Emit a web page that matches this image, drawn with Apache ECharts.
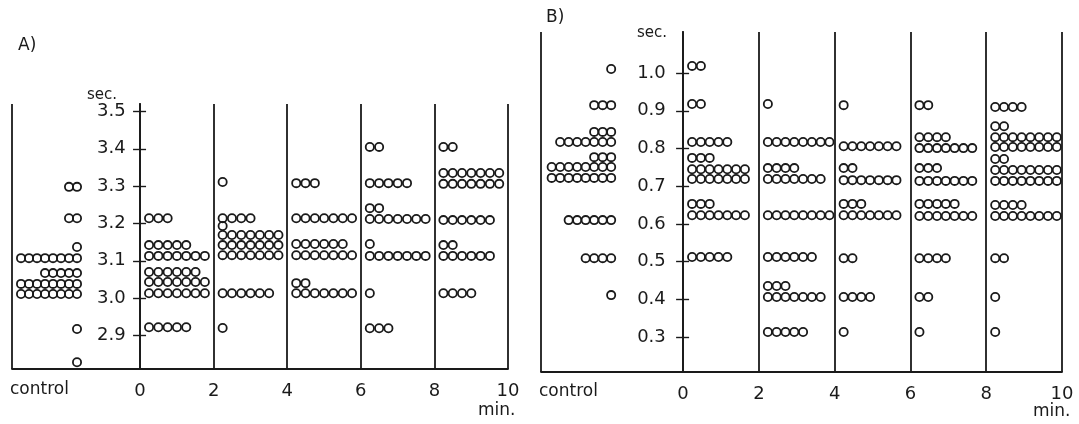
<!DOCTYPE html>
<html>
<head>
<meta charset="utf-8">
<title>Reaction time dot chart</title>
<script src="https://cdn.jsdelivr.net/npm/echarts@6.0.0/dist/echarts.min.js"></script>
<style>
  html, body { margin: 0; padding: 0; background: #fff; }
  #chart { width: 1079px; height: 424px; }
</style>
</head>
<body>
<div id="chart"></div>
<script>
// tick labels
const minuteTicks = [0, 2, 4, 6, 8, 10]
const columnStarts = [0, 2, 4, 6, 8]
const aSecTicks = [2.9, 3.0, 3.1, 3.2, 3.3, 3.4, 3.5]
const bSecTicks = [0.3, 0.4, 0.5, 0.6, 0.7, 0.8, 0.9, 1.0]

// panel A: each row is [sec, number of dots in that row]
const aControl = [[3.298, 2], [3.214, 2], [3.137, 1], [3.107, 8], [3.067, 5], [3.038, 8], [3.011, 8], [2.917, 1], [2.828, 1]]
const aMin0 = [[3.214, 3], [3.142, 5], [3.113, 7], [3.07, 6], [3.043, 7], [3.013, 7], [2.922, 5]]
const aMin2 = [[3.311, 1], [3.214, 4], [3.193, 1], [3.169, 7], [3.142, 7], [3.115, 7], [3.013, 6], [2.92, 1]]
const aMin4 = [[3.308, 3], [3.214, 7], [3.145, 6], [3.115, 7], [3.04, 2], [3.013, 7]]
const aMin6 = [[3.405, 2], [3.308, 5], [3.241, 2], [3.212, 7], [3.145, 1], [3.113, 7], [3.013, 1], [2.919, 3]]
const aMin8 = [[3.405, 2], [3.335, 7], [3.306, 7], [3.209, 6], [3.142, 2], [3.113, 6], [3.013, 4]]

// panel B
const bControl = [[1.011, 1], [0.915, 3], [0.844, 3], [0.817, 7], [0.777, 3], [0.751, 8], [0.722, 8], [0.61, 6], [0.509, 4], [0.411, 1]]
const bMin0 = [[1.019, 2], [0.918, 2], [0.817, 5], [0.775, 3], [0.745, 7], [0.719, 7], [0.653, 3], [0.623, 7], [0.512, 5]]
const bMin2 = [[0.918, 1], [0.817, 8], [0.748, 4], [0.719, 7], [0.623, 8], [0.512, 6], [0.435, 3], [0.406, 7], [0.313, 5]]
const bMin4 = [[0.915, 1], [0.806, 7], [0.748, 2], [0.716, 7], [0.653, 3], [0.623, 7], [0.509, 2], [0.406, 4], [0.313, 1]]
const bMin6 = [[0.915, 2], [0.83, 4], [0.801, 7], [0.748, 3], [0.714, 7], [0.653, 5], [0.621, 7], [0.509, 4], [0.406, 2], [0.313, 1]]
const bMin8 = [[0.91, 4], [0.859, 2], [0.83, 8], [0.804, 8], [0.772, 2], [0.743, 8], [0.714, 8], [0.65, 4], [0.621, 8], [0.509, 2], [0.406, 1], [0.313, 1]]

const INK = '#1a1a1a'
const FONT = 'DejaVu Sans'

// panel layout (pixels) and axis extents
const panelA = {
  left: 12, right: 571, top: 104, bottom: 55,
  xMin: -3.48, xMax: 10, yMin: 2.81, yMax: 3.52, axisX: -1.55,
  firstOff: 9, gap: 9.3, ctrlEnd: 6, ctrlGap: 8, labelMargin: 14,
}
const panelB = {
  left: 541, right: 17, top: 32, bottom: 52,
  xMin: -3.75, xMax: 10, yMin: 0.207, yMax: 1.109, axisX: -1.74,
  firstOff: 9, gap: 8.8, ctrlEnd: 6, ctrlGap: 8.5, labelMargin: 20,
}
for (const p of [panelA, panelB]) {
  p.width = 1079 - p.left - p.right
  p.scale = p.width / (p.xMax - p.xMin)
}

function timeDots(rows, start, p) {
  const pts = []
  rows.forEach(([sec, n]) => {
    for (let k = 0; k < n; k++) pts.push([start + (p.firstOff + k * p.gap) / p.scale, sec])
  })
  return pts
}

function controlDots(rows, p) {
  const pts = []
  rows.forEach(([sec, n]) => {
    for (let k = 0; k < n; k++) pts.push([p.axisX - (p.ctrlEnd + k * p.ctrlGap) / p.scale, sec])
  })
  return pts
}

function panelDots(control, columns, p) {
  let pts = controlDots(control, p)
  columns.forEach((rows, i) => { pts = pts.concat(timeDots(rows, columnStarts[i], p)) })
  return pts
}

const dotsA = panelDots(aControl, [aMin0, aMin2, aMin4, aMin6, aMin8], panelA)
const dotsB = panelDots(bControl, [bMin0, bMin2, bMin4, bMin6, bMin8], panelB)

function gridOf(p) {
  return { left: p.left, right: p.right, top: p.top, bottom: p.bottom, containLabel: false }
}

function xAxisOf(p, idx) {
  return {
    gridIndex: idx, type: 'value', min: p.xMin, max: p.xMax,
    splitLine: { show: false },
    axisTick: { show: false },
    axisLine: { lineStyle: { color: INK, width: 1.8 } },
    axisLabel: {
      customValues: minuteTicks, formatter: v => String(v),
      color: INK, fontFamily: FONT, fontSize: 18, margin: 13,
    },
  }
}

function yAxesOf(p, idx, ticks) {
  const base = {
    gridIndex: idx, type: 'value', position: 'left', min: p.yMin, max: p.yMax,
    splitLine: { show: false },
    axisLine: { show: true, lineStyle: { color: INK, width: 1.8 } },
  }
  return [
    {
      ...base,
      offset: -(p.axisX - p.xMin) * p.scale,
      axisTick: { show: true, inside: true, length: 6, customValues: ticks, lineStyle: { color: INK, width: 1.4 } },
      axisLabel: {
        show: true, inside: true, margin: p.labelMargin, customValues: ticks,
        formatter: v => v.toFixed(1), color: INK, fontFamily: FONT, fontSize: 18,
      },
    },
    {
      ...base,
      offset: -(0 - p.xMin) * p.scale,
      axisTick: { show: true, inside: false, length: 7, customValues: ticks, lineStyle: { color: INK, width: 1.4 } },
      axisLabel: { show: false },
    },
  ]
}

function dotSeries(data, idx, p) {
  return {
    type: 'scatter', xAxisIndex: idx, yAxisIndex: idx * 2, data,
    symbol: 'circle', symbolSize: 8.2, silent: true,
    itemStyle: { color: 'rgba(0,0,0,0)', borderColor: INK, borderWidth: 1.8, opacity: 1 },
    markLine: {
      silent: true, symbol: ['none', 'none'], label: { show: false },
      lineStyle: { type: 'solid', color: INK, width: 1.8 },
      data: [p.xMin, 2, 4, 6, 8, 10].map(v => ({ xAxis: v })),
    },
  }
}

function text(str, left, top, size) {
  return { type: 'text', left, top, silent: true, style: { text: str, fill: INK, font: `${size}px "${FONT}"` } }
}

const chart = echarts.init(document.getElementById('chart'), null, { renderer: 'canvas' })
chart.setOption({
  animation: false,
  backgroundColor: '#fff',
  grid: [gridOf(panelA), gridOf(panelB)],
  xAxis: [xAxisOf(panelA, 0), xAxisOf(panelB, 1)],
  yAxis: [...yAxesOf(panelA, 0, aSecTicks), ...yAxesOf(panelB, 1, bSecTicks)],
  series: [dotSeries(dotsA, 0, panelA), dotSeries(dotsB, 1, panelB)],
  graphic: [
    text('A)', 18, 37, 17),
    text('B)', 546, 9, 17),
    text('sec.', 87, 88, 15),
    text('sec.', 637, 26, 15),
    text('control', 10, 381, 17),
    text('control', 539, 383, 17),
    text('min.', 478, 402, 17),
    text('min.', 1033, 403, 17),
  ],
})
</script>
</body>
</html>
